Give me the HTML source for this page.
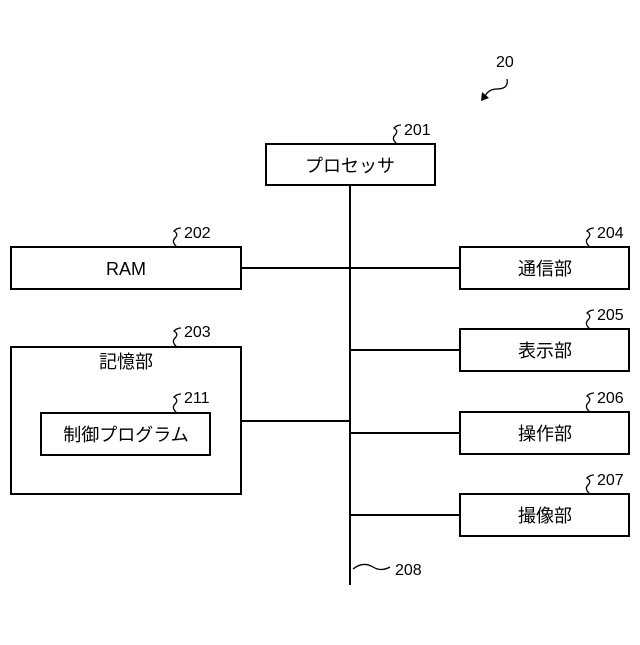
<!DOCTYPE html>
<html><head><meta charset="utf-8"><style>
body{margin:0;background:#fff}
svg text{font-family:"Liberation Sans","Noto Sans CJK JP",sans-serif;fill:#000}
</style></head><body>
<svg width="640" height="640" viewBox="0 0 640 640" xmlns="http://www.w3.org/2000/svg">
<g fill="none" stroke="#000" stroke-width="2">
<rect x="266" y="144" width="169" height="41"/>
<rect x="11" y="247" width="230" height="42"/>
<rect x="11" y="347" width="230" height="147"/>
<rect x="41" y="413" width="169" height="42"/>
<rect x="460" y="247" width="169" height="42"/>
<rect x="460" y="329" width="169" height="42"/>
<rect x="460" y="412" width="169" height="42"/>
<rect x="460" y="494" width="169" height="42"/>
<line x1="350" y1="185" x2="350" y2="585"/>
<line x1="241" y1="268" x2="460" y2="268"/>
<line x1="350" y1="350" x2="460" y2="350"/>
<line x1="241" y1="421" x2="350" y2="421"/>
<line x1="350" y1="433" x2="460" y2="433"/>
<line x1="350" y1="515" x2="460" y2="515"/>
</g>
<g fill="none" stroke="#000" stroke-width="1.3">
<path d="M397 144 q-6 -5 -2 -9 q4 -4 -1 -7 q3 -3 7 -3"/>
<path d="M177 247 q-6 -5 -2 -9 q4 -4 -1 -7 q3 -3 7 -3"/>
<path d="M177 347 q-6 -5 -2 -9 q4 -4 -1 -7 q3 -3 7 -3"/>
<path d="M177 413 q-6 -5 -2 -9 q4 -4 -1 -7 q3 -3 7 -3"/>
<path d="M590 247 q-6 -5 -2 -9 q4 -4 -1 -7 q3 -3 7 -3"/>
<path d="M590 329 q-6 -5 -2 -9 q4 -4 -1 -7 q3 -3 7 -3"/>
<path d="M590 412 q-6 -5 -2 -9 q4 -4 -1 -7 q3 -3 7 -3"/>
<path d="M590 494 q-6 -5 -2 -9 q4 -4 -1 -7 q3 -3 7 -3"/>
<path d="M353 569 q10 -8 20 -2 q8 5 17 0"/>
<path d="M507 79 q2 10 -10 10 q-10 0 -13 10"/>
</g>
<path d="M481 101 l1 -9 l7 6 z" fill="#000"/>
<g font-size="16">
<text x="496" y="67">20</text>
<text x="404" y="135">201</text>
<text x="184" y="238">202</text>
<text x="184" y="337">203</text>
<text x="184" y="403">211</text>
<text x="597" y="238">204</text>
<text x="597" y="320">205</text>
<text x="597" y="403">206</text>
<text x="597" y="485">207</text>
<text x="395" y="575">208</text>
</g>
<g font-size="18" text-anchor="middle">
<text x="350" y="172">プロセッサ</text>
<text x="126" y="275">RAM</text>
<text x="126" y="368">記憶部</text>
<text x="126" y="441">制御プログラム</text>
<text x="545" y="275">通信部</text>
<text x="545" y="357">表示部</text>
<text x="545" y="440">操作部</text>
<text x="545" y="522">撮像部</text>
</g>
</svg>
</body></html>
